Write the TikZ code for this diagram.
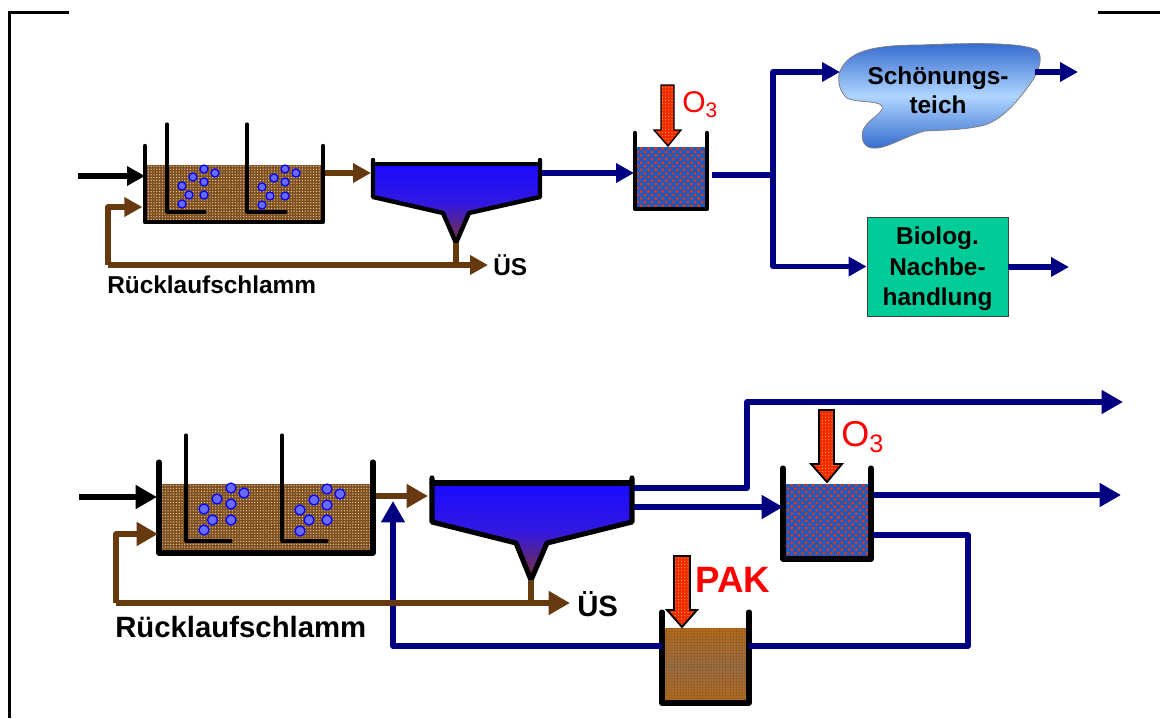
\documentclass[tikz,border=0pt]{standalone}
\usepackage{fontspec}
\setmainfont{Liberation Sans}
\usetikzlibrary{arrows.meta,patterns.meta}
\definecolor{Sludge}{RGB}{102,58,14}
\definecolor{SludgeBase}{RGB}{125,78,32}
\definecolor{SludgeDot}{RGB}{222,190,140}
\definecolor{Navy}{RGB}{0,0,128}
\definecolor{ClearTop}{RGB}{26,10,255}
\definecolor{ClearMid}{RGB}{50,24,225}
\definecolor{ClearEnd}{RGB}{125,50,50}
\definecolor{OzoneBase}{RGB}{30,90,190}
\definecolor{OzoneDot}{RGB}{245,50,5}
\definecolor{DoseRed}{RGB}{240,40,0}
\definecolor{DoseDot}{RGB}{255,190,0}
\definecolor{PakEdge}{RGB}{178,105,28}
\definecolor{PakMid}{RGB}{150,108,70}
\definecolor{PondDark}{RGB}{50,105,205}
\definecolor{PondLight}{RGB}{175,213,255}
\definecolor{PostGreen}{RGB}{0,204,153}
\definecolor{BubbleFill}{RGB}{105,105,255}
\tikzset{
    tankwall/.style={draw=black, line width=3.3pt, line join=round, line cap=round},
    thinwall/.style={draw=black, line width=2.3pt, line join=round, line cap=round},
    basin/.style={inner sep=0pt, outer sep=0pt},
    sludge/.style={basin, preaction={fill=SludgeBase}, pattern={Dots[distance=2.1pt,radius=.55pt]}, pattern color=SludgeDot},
    ozone/.style={basin, preaction={fill=OzoneBase}, pattern={Dots[distance=3.8pt,radius=1.25pt,angle=45]}, pattern color=OzoneDot},
    flow/.style={line width=3.9pt, line join=round, -{Triangle[length=13.5pt,width=14pt]}},
    bigflow/.style={line width=4.3pt, line join=round, -{Triangle[length=16pt,width=17pt]}},
    plainflow/.style={line width=3.9pt, line join=round},
    dose/.style={draw=black, line width=1pt, line join=miter, preaction={fill=DoseRed}, pattern={Dots[distance=2.4pt,radius=.45pt]}, pattern color=DoseDot},
    bubble/.style={draw=blue, line width=.9pt, fill=BubbleFill},
    lbl/.style={font=\bfseries\fontsize{18.3}{22}\selectfont, align=center, inner sep=0pt},
    biglbl/.style={font=\bfseries\fontsize{22}{26}\selectfont, inner sep=0pt},
}
\begin{document}
\begin{tikzpicture}[x=.75pt, y=-.75pt]
    \useasboundingbox (0,0) rectangle (1160,718);
    \draw[line width=2.25pt] (69,12) -- (9,12) -- (9,718);
    \draw[line width=2.25pt] (1098,12) -- (1160,12);

    \node[sludge, minimum width=133.5pt, minimum height=42.75pt] (tankA) at (234,193.5) {};
    \path[bubble] (204,169) circle[radius=4] (215,173) circle[radius=4] (193,177) circle[radius=4] (204,182) circle[radius=4] (182,186) circle[radius=4] (189,195) circle[radius=4] (204,195) circle[radius=4] (182,204) circle[radius=4];
    \path[bubble] (285,169) circle[radius=4] (296,173) circle[radius=4] (274,178) circle[radius=4] (285,182) circle[radius=4] (262,187) circle[radius=4] (270,196) circle[radius=4] (285,196) circle[radius=4] (262,205) circle[radius=4];
    \draw[thinwall] (167,124) -- (167,212) -- (205,212);
    \draw[thinwall] (247,124) -- (247,212) -- (286,212);
    \draw[tankwall] (145,146) -- (145,222) -- (323,222) -- (323,146);

    \shade[top color=ClearTop, bottom color=ClearEnd, middle color=ClearMid] (373,164) -- (373,197) -- (443,213) -- (456,243) -- (469,213) -- (540,197) -- (540,164) -- cycle;
    \draw[tankwall] (373,160) -- (373,197) -- (443,213) -- (456,243) -- (469,213) -- (540,197) -- (540,160);
    \draw[tankwall] (373,164) -- (540,164);

    \node[ozone, minimum width=54pt, minimum height=46.5pt] (ozoneA) at (671,178) {};
    \draw[tankwall] (635,133) -- (635,209) -- (707,209) -- (707,133);
    \draw[dose] (661,85) -- (674,85) -- (674,130) -- (681,130) -- (668,146) -- (654,130) -- (661,130) -- cycle;
    \node[text=red, font=\fontsize{22.5}{26}\selectfont, inner sep=0pt, anchor=west] (labelOa) at (682,105) {O\textsubscript{3}};

    \shade[draw=gray, line width=.6pt, top color=PondDark, bottom color=PondDark, middle color=PondLight] (839,74) .. controls (846,52) and (870,45) .. (920,45) .. controls (970,43) and (1020,42) .. (1037,50) .. controls (1043,56) and (1040,68) .. (1033,80) .. controls (1020,98) and (1005,118) .. (985,125) .. controls (965,130) and (945,130) .. (925,131) .. controls (905,136) and (885,150) .. (872,148) .. controls (862,147) and (860,135) .. (864,128) .. controls (870,118) and (885,112) .. (882,106) .. controls (878,100) and (855,103) .. (847,98) .. controls (840,92) and (838,84) .. (839,74) -- cycle;
    \node[lbl] (pond) at (938,90.5) {Schönungs-\\teich};
    \node[lbl, draw=black!75, line width=.6pt, fill=PostGreen, minimum width=105.75pt, minimum height=74.25pt, inner sep=0pt] (post) at (937.5,266.5) {\rule{0pt}{17pt}Biolog.\\[1pt]Nachbe-\\[1pt]handlung};

    \coordinate (inA) at (78,176);
    \coordinate (outA) at (325,173);
    \coordinate (clarAin) at (371,173);
    \coordinate (clarAout) at (542,173);
    \coordinate (clarAtip) at (456,243);
    \coordinate (retA) at (108,265);
    \coordinate (retAend) at (145,207);
    \coordinate (wasteA) at (488,265);
    \coordinate (ozoneAin) at (634,173);
    \coordinate (ozoneAout) at (712,175);
    \coordinate (forkA) at (773,175);
    \coordinate (pondIn) at (840,72);
    \coordinate (pondOut) at (1035,72);
    \coordinate (pondEnd) at (1078,72);
    \coordinate (postEnd) at (1069,267);

    \draw[flow] (inA) -- (inA -| tankA.west);
    \draw[flow, Sludge] (outA) -- (clarAin);
    \draw[flow, Sludge] (retA) -- (retA |- retAend) -- ([xshift=-2pt]retAend);
    \draw[flow, Sludge] (retA) -- (wasteA);
    \draw[plainflow, Sludge] (clarAtip) -- (clarAtip |- wasteA);
    \draw[flow, Navy] (clarAout) -- (ozoneAin);
    \draw[plainflow, Navy] (ozoneAout) -- (forkA);
    \draw[flow, Navy] (forkA) -- (forkA |- pondIn) -- (pondIn);
    \draw[flow, Navy] (forkA) -- (forkA |- post.west) -- (post.west);
    \draw[flow, Navy] (pondOut) -- (pondEnd);
    \draw[flow, Navy] (post.east |- postEnd) -- (postEnd);

    \node[lbl, anchor=west] (usA) at (493,265) {ÜS};
    \node[lbl, anchor=west] (ruecklaufA) at (107,285) {Rücklaufschlamm};

    \node[sludge, minimum width=160.5pt, minimum height=51.75pt] (tankB) at (266,518.5) {};
    \path[bubble] (231,488) circle[radius=5] (244,493) circle[radius=5] (217,499) circle[radius=5] (231,504) circle[radius=5] (204,509) circle[radius=5] (212.5,520) circle[radius=5] (231,520) circle[radius=5] (204,530) circle[radius=5];
    \path[bubble] (327,489) circle[radius=5] (340,494) circle[radius=5] (314,500) circle[radius=5] (327,505) circle[radius=5] (300,510) circle[radius=5] (309,520) circle[radius=5] (327,520) circle[radius=5] (300,531) circle[radius=5];
    \draw[thinwall] (186,435) -- (186,541) -- (231,541);
    \draw[thinwall] (282,435) -- (282,541) -- (327,541);
    \draw[tankwall, line width=3.8pt] (159,462) -- (159,553) -- (373,553) -- (373,462);

    \shade[top color=ClearTop, bottom color=ClearEnd, middle color=ClearMid] (432,483) -- (432,522) -- (516,543) -- (531,580) -- (547,543) -- (632,522) -- (632,483) -- cycle;
    \draw[tankwall, line width=3.8pt] (432,478) -- (432,522) -- (516,543) -- (531,580) -- (547,543) -- (632,522) -- (632,478);
    \draw[tankwall, line width=3.8pt] (432,483) -- (632,483);

    \node[ozone, minimum width=66pt, minimum height=56.25pt] (ozoneB) at (827,521.5) {};
    \draw[tankwall, line width=3.8pt] (783,468) -- (783,559) -- (871,559) -- (871,468);
    \draw[dose, line width=1.4pt] (819,410) -- (834,410) -- (834,464) -- (842,464) -- (827,482) -- (811,464) -- (819,464) -- cycle;
    \node[text=red, font=\fontsize{27}{30}\selectfont, inner sep=0pt, anchor=west] (labelOb) at (841,437) {O\textsubscript{3}};

    \node[basin, left color=PakEdge, right color=PakEdge, middle color=PakMid, shading angle=0, minimum width=65.25pt, minimum height=56.25pt] (pak) at (705.5,665.5) {};
    \node[basin, pattern={Dots[distance=2.1pt,radius=.5pt]}, pattern color=PakEdge!75!black, minimum width=65.25pt, minimum height=56.25pt] (pakDots) at (705.5,665.5) {};
    \draw[tankwall, line width=3.8pt] (662,612) -- (662,703) -- (749,703) -- (749,612);
    \draw[dose, line width=1.4pt] (674,556) -- (690,556) -- (690,610) -- (697,610) -- (682,627) -- (667,610) -- (674,610) -- cycle;
    \node[text=red, font=\bfseries\fontsize{27.5}{30}\selectfont, inner sep=0pt, anchor=west] (labelPak) at (695,580) {PAK};

    \coordinate (inB) at (79,497);
    \coordinate (outB) at (376,496);
    \coordinate (clarBin) at (428,496);
    \coordinate (clarBtip) at (531,580);
    \coordinate (retB) at (116,603);
    \coordinate (retBend) at (158,534);
    \coordinate (wasteB) at (570,603);
    \coordinate (riseB) at (393,646);
    \coordinate (riseBtip) at (393,501);
    \coordinate (clarBup) at (634,488);
    \coordinate (upB) at (747,402);
    \coordinate (upBend) at (1123,402);
    \coordinate (clarBlow) at (634,507);
    \coordinate (ozoneBout) at (873,495);
    \coordinate (ozoneBend) at (1121,495);
    \coordinate (ozoneBdrain) at (873,535);
    \coordinate (loopB) at (968,646);

    \draw[bigflow] (inB) -- ([xshift=-1.5pt]inB -| tankB.west);
    \draw[bigflow, Sludge] (outB) -- (clarBin);
    \draw[bigflow, Navy] (pak.west |- riseB) -- (riseB) -- (riseBtip);
    \draw[plainflow, line width=4.3pt, Navy] (ozoneBdrain) -- (ozoneBdrain -| loopB) -- (loopB) -- (pak.east |- loopB);
    \draw[bigflow, Sludge] (retB) -- (retB |- retBend) -- (retBend);
    \draw[bigflow, Sludge] (retB) -- (wasteB);
    \draw[plainflow, line width=4.3pt, Sludge] (clarBtip) -- (clarBtip |- wasteB);
    \draw[bigflow, Navy] (clarBup) -- (clarBup -| upB) -- (upB) -- (upBend);
    \draw[bigflow, Navy] (clarBlow) -- (clarBlow -| ozoneB.west);
    \draw[bigflow, Navy] (ozoneBout) -- (ozoneBend);

    \node[biglbl, anchor=west] (usB) at (577,604) {ÜS};
    \node[biglbl, anchor=west] (ruecklaufB) at (115,627) {Rücklaufschlamm};
\end{tikzpicture}
\end{document}
